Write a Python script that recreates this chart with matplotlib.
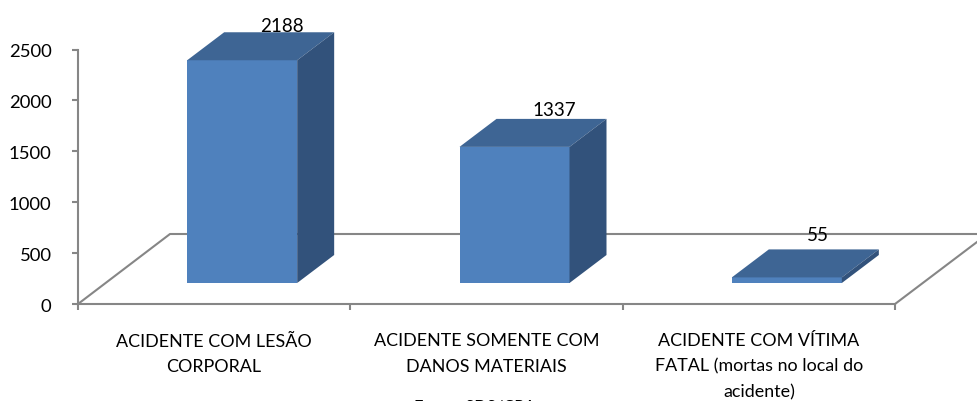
import matplotlib
matplotlib.use("Agg")
import matplotlib.pyplot as plt
from matplotlib.patches import Polygon

categories = ["ACIDENTE COM LESÃO\nCORPORAL",
              "ACIDENTE SOMENTE COM\nDANOS MATERIAIS",
              "ACIDENTE COM VÍTIMA\nFATAL (mortas no local do\nacidente)"]
values = [2188, 1337, 55]
yticks = [0, 500, 1000, 1500, 2000, 2500]

W, H = 977, 402
L, R, T, B = 78, 895, 50.5, 305
plt.rcParams['font.family'] = ['Lato', 'DejaVu Sans']
fig = plt.figure(figsize=(W/100, H/100), dpi=100)
ax = fig.add_axes([L/W, 1-B/H, (R-L)/W, (B-T)/H])
ax.set_xlim(-0.5, 2.5)
ax.set_ylim(0, 2500)
upx = 3/(R-L)
vpx = 2500/(B-T)

GREY = '#868686'
for s in ['top', 'right']:
    ax.spines[s].set_visible(False)
for s in ['left', 'bottom']:
    ax.spines[s].set_color(GREY)
    ax.spines[s].set_linewidth(1.5)

ax.set_yticks(yticks)
ax.set_xticks([-0.5, 0.5, 1.5, 2.5])
ax.set_xticklabels([])
ax.tick_params(axis='both', color=GREY, width=1.5, length=4.5, labelsize=13.3, labelcolor='black')
ax.tick_params(axis='y', pad=14.5)

# floor outline
x0, x1 = -0.5, 2.5
dyw = 70*vpx
ax.plot([x0, x0+92*upx, x1+82*upx], [0, dyw, dyw], color=GREY, lw=1.5, clip_on=False, zorder=1)
ax.plot([x1, x1+82*upx], [0, 62*vpx], color=GREY, lw=1.5, clip_on=False, zorder=1)

# bars
bw = 110*upx
dx, dy = 37*upx, 28*vpx
base = 21*vpx
off = 28*upx
FRONT, TOP, SIDE = '#4F81BD', '#3E6594', '#32527B'
label_shift_x = [68, 68, 59]
label_shift_y = [6.5, 9, 14.5]
for i, v in enumerate(values):
    xl = i + off - bw/2
    xr = xl + bw
    yb = base
    yt = base + v
    ax.add_patch(Polygon([(xl, yb), (xr, yb), (xr, yt), (xl, yt)], fc=FRONT, ec='none', zorder=3, clip_on=False))
    ax.add_patch(Polygon([(xl, yt), (xr, yt), (xr+dx, yt+dy), (xl+dx, yt+dy)], fc=TOP, ec='none', zorder=3, clip_on=False))
    ax.add_patch(Polygon([(xr, yb), (xr+dx, yb+dy), (xr+dx, yt+dy), (xr, yt)], fc=SIDE, ec='none', zorder=3, clip_on=False))
    ax.text(i + label_shift_x[i]*upx, yt + dy + label_shift_y[i]*vpx, str(v), ha='center', va='center',
            fontsize=13.5, color='black', zorder=4, clip_on=False)

for i, c in enumerate(categories):
    ax.text(i, -28.5*vpx, c, ha='center', va='top', fontsize=12.9, linespacing=1.7, color='black', clip_on=False)

fig.text(475/W, 1-408/H, "Fonte: SDS/CPA", ha='center', va='center', fontsize=12, color='black')
fig.savefig("out.png", dpi=100, facecolor='white')
